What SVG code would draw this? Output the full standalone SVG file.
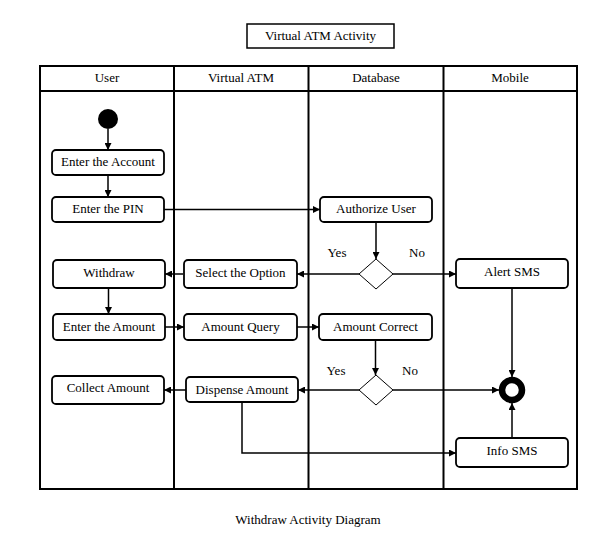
<svg xmlns="http://www.w3.org/2000/svg" width="614" height="543" viewBox="0 0 614 543">
<style>
text{font-family:"Liberation Serif","Times New Roman",serif;font-size:13px;fill:#000;text-anchor:middle;dominant-baseline:central}
.lane{fill:none;stroke:#000;stroke-width:2}
.node rect{fill:#fff;stroke:#000;stroke-width:1.8}
.conn{fill:none;stroke:#000;stroke-width:1.5}
.dec{fill:#fff;stroke:#000;stroke-width:1}
</style>
<defs>
<marker id="ah" viewBox="0 0 10 10" refX="10" refY="5" markerWidth="7" markerHeight="7" markerUnits="userSpaceOnUse" orient="auto">
<path d="M0,0 L10,5 L0,10 z" fill="#000"/>
</marker>
</defs>
<rect width="614" height="543" fill="#fff"/>
<g id="title"><rect x="247" y="24" width="147" height="24" fill="#fff" stroke="#000" stroke-width="1.5"/><text x="320.5" y="35">Virtual ATM Activity</text></g>
<g id="lanes">
<rect class="lane" x="40" y="66" width="537" height="423"/>
<line class="lane" x1="40" y1="91" x2="577" y2="91"/>
<line class="lane" x1="174" y1="66" x2="174" y2="489"/>
<line class="lane" x1="308.5" y1="66" x2="308.5" y2="489"/>
<line class="lane" x1="443.5" y1="66" x2="443.5" y2="489"/>
<text x="107" y="77">User</text>
<text x="241" y="77">Virtual ATM</text>
<text x="376" y="77">Database</text>
<text x="510" y="77">Mobile</text>
</g>
<g id="connectors">
<path class="conn" d="M108,129 V150" marker-end="url(#ah)"/>
<path class="conn" d="M108,175 V197" marker-end="url(#ah)"/>
<path class="conn" d="M164,209.5 H320" marker-end="url(#ah)"/>
<path class="conn" d="M376,222 V259" marker-end="url(#ah)"/>
<path class="conn" d="M359,274 H297" marker-end="url(#ah)"/>
<path class="conn" d="M393,274 H456" marker-end="url(#ah)"/>
<path class="conn" d="M183,274 H165" marker-end="url(#ah)"/>
<path class="conn" d="M108.5,288 V314" marker-end="url(#ah)"/>
<path class="conn" d="M165,327 H184" marker-end="url(#ah)"/>
<path class="conn" d="M297,327 H319" marker-end="url(#ah)"/>
<path class="conn" d="M375.5,340 V375" marker-end="url(#ah)"/>
<path class="conn" d="M359,390 H298" marker-end="url(#ah)"/>
<path class="conn" d="M186,390 H164" marker-end="url(#ah)"/>
<path class="conn" d="M393,390 H499" marker-end="url(#ah)"/>
<path class="conn" d="M242,402 V453 H456" marker-end="url(#ah)"/>
<path class="conn" d="M512,288 V377" marker-end="url(#ah)"/>
<path class="conn" d="M512,438 V403" marker-end="url(#ah)"/>
<text x="337" y="252">Yes</text>
<text x="417" y="252">No</text>
<text x="336" y="370">Yes</text>
<text x="410" y="370">No</text>
</g>
<g id="start"><circle cx="108" cy="119" r="10" fill="#000"/></g>
<g id="end"><circle cx="512" cy="390" r="10" fill="#fff" stroke="#000" stroke-width="6.5"/></g>
<g id="n-enter-account" class="node"><rect x="52" y="150" width="112" height="25" rx="4"/><text x="108" y="161.5">Enter the Account</text></g>
<g id="n-enter-pin" class="node"><rect x="52" y="197" width="112" height="25" rx="4"/><text x="108" y="208.5">Enter the PIN</text></g>
<g id="n-authorize" class="node"><rect x="320" y="197" width="112" height="25" rx="4"/><text x="376" y="208.5">Authorize User</text></g>
<g id="d-auth"><polygon class="dec" points="376,259 393,274 376,289 359,274"/></g>
<g id="n-withdraw" class="node"><rect x="53" y="260" width="112" height="28" rx="4"/><text x="109" y="272">Withdraw</text></g>
<g id="n-select" class="node"><rect x="184" y="260" width="113" height="28" rx="4"/><text x="240.5" y="272">Select the Option</text></g>
<g id="n-alert" class="node"><rect x="456" y="259" width="112" height="29" rx="4"/><text x="512" y="271">Alert SMS</text></g>
<g id="n-enter-amount" class="node"><rect x="53" y="314" width="112" height="26" rx="4"/><text x="109" y="326">Enter the Amount</text></g>
<g id="n-amount-query" class="node"><rect x="184" y="314" width="113" height="26" rx="4"/><text x="240.5" y="326">Amount Query</text></g>
<g id="n-amount-correct" class="node"><rect x="319" y="314" width="113" height="26" rx="4"/><text x="375.5" y="326">Amount Correct</text></g>
<g id="d-amount"><polygon class="dec" points="376,375 393,390 376,405 359,390"/></g>
<g id="n-collect" class="node"><rect x="52" y="376" width="112" height="28" rx="4"/><text x="108" y="387">Collect Amount</text></g>
<g id="n-dispense" class="node"><rect x="186" y="377" width="112" height="25" rx="4"/><text x="242" y="389">Dispense Amount</text></g>
<g id="n-info" class="node"><rect x="456" y="438" width="112" height="29" rx="4"/><text x="512" y="450">Info SMS</text></g>
<text x="308" y="519">Withdraw Activity Diagram</text>
</svg>
